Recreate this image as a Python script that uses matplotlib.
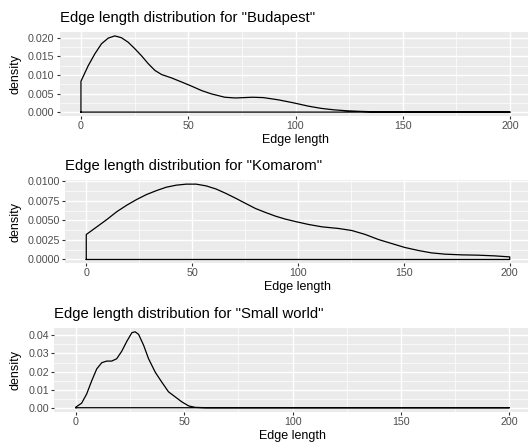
import matplotlib.pyplot as plt
from matplotlib.ticker import FixedLocator, FormatStrFormatter

plt.rcParams['font.family'] = ['Liberation Sans', 'DejaVu Sans']

budapest_x = [0, 3.4, 6.5, 9.6, 12.7, 15.8, 18.9, 22, 25.2, 28.3, 31.4, 34.5, 37.6,
              42.2, 46.9, 51.5, 56.2, 60.8, 67, 72, 76, 80, 85, 92, 99, 106, 112,
              118, 124, 130, 136, 145, 200]
budapest_y = [0.0083, 0.0125, 0.0157, 0.0184, 0.0199, 0.0205, 0.0200, 0.0188,
              0.0170, 0.0151, 0.0130, 0.0112, 0.0101, 0.0092, 0.0081, 0.0070,
              0.0058, 0.0049, 0.0040, 0.0038, 0.0039, 0.0040, 0.0039, 0.0033,
              0.0025, 0.0016, 0.0010, 0.0006, 0.00035, 0.0002, 0.0001, 0.0, 0.0]

komarom_x = [0, 5, 9.7, 14.4, 19.1, 23.8, 28.5, 33.2, 37.8, 42.5, 47.2, 51.9,
             56.6, 61.3, 66, 70.7, 75.3, 80, 84.7, 89.4, 94.1, 99.5, 105, 111.3,
             119.1, 125.4, 131.7, 138, 144.2, 150.5, 156.8, 163.1, 169.4, 177.2,
             185, 192.9, 200]
komarom_y = [0.00319, 0.00417, 0.0051, 0.0061, 0.00693, 0.00766, 0.0083, 0.0088,
             0.00923, 0.00949, 0.00962, 0.00962, 0.0094, 0.0090, 0.00843, 0.0078,
             0.00715, 0.0065, 0.0060, 0.00553, 0.00515, 0.0048, 0.00447, 0.00417,
             0.00396, 0.0037, 0.0032, 0.00255, 0.00204, 0.00153, 0.00115,
             0.00084, 0.00068, 0.00059, 0.00055, 0.00046, 0.00033]

smallworld_x = [0, 2.6, 4.9, 7.3, 9.6, 11.9, 14.2, 16.5, 18.8, 21.1, 23.5, 25.8,
                27.3, 28.9, 31.2, 33.5, 36.6, 39.7, 42.7, 45.8, 48.9, 52, 55,
                60, 200]
smallworld_y = [0.0004, 0.0025, 0.0075, 0.0150, 0.0215, 0.0249, 0.0258, 0.0258,
                0.0271, 0.0312, 0.0368, 0.0415, 0.0420, 0.0406, 0.0346, 0.0271,
                0.0196, 0.0140, 0.0088, 0.0060, 0.0032, 0.0010, 0.0002, 0.0, 0.0]

titles = ['Edge length distribution for "Budapest"',
          'Edge length distribution for "Komarom"',
          'Edge length distribution for "Small world"']

x_major = [0, 50, 100, 150, 200]
x_minor = [25, 75, 125, 175]

W, H = 528, 444
fig = plt.figure(figsize=(W / 100, H / 100), dpi=100)


def panel(box, xs, ys, title, ymajor, yminor, ylim, fmt):
    left, right, top, bottom = box
    ax = fig.add_axes([left / W, 1 - bottom / H, (right - left) / W, (bottom - top) / H])
    ax.set_facecolor('#EBEBEB')
    for s in ax.spines.values():
        s.set_visible(False)
    ax.set_xlim(-10, 210)
    ax.set_ylim(*ylim)
    ax.xaxis.set_major_locator(FixedLocator(x_major))
    ax.xaxis.set_minor_locator(FixedLocator(x_minor))
    ax.yaxis.set_major_locator(FixedLocator(ymajor))
    ax.yaxis.set_minor_locator(FixedLocator(yminor))
    ax.yaxis.set_major_formatter(FormatStrFormatter(fmt))
    ax.grid(which='major', color='white', linewidth=1.0)
    ax.grid(which='minor', color='white', linewidth=0.5)
    ax.set_axisbelow(True)
    ax.tick_params(which='major', length=2.3, width=0.8, color='#333333',
                   labelcolor='#4D4D4D', labelsize=7.7, pad=1.6)
    ax.tick_params(which='minor', length=0)

    # closed outline: up the left edge, along the curve, back on the baseline
    px = [xs[0]] + xs + [xs[-1], xs[0]]
    py = [0] + ys + [0, 0]
    ax.plot(px, py, color='black', linewidth=0.9, solid_joinstyle='round')

    ax.annotate(title, xy=(0, 1), xycoords='axes fraction', xytext=(0, 10),
                textcoords='offset points', ha='left', va='center', fontsize=10.7)
    ax.set_xlabel('Edge length', fontsize=9, labelpad=2.0)
    fig.text(15 / W, 1 - (top + bottom) / 2 / H, 'density', rotation=90,
             ha='center', va='center', fontsize=9)
    return ax


panel((59.5, 531.5, 32, 116), budapest_x, budapest_y, titles[0],
      [0, 0.005, 0.010, 0.015, 0.020], [0.0025, 0.0075, 0.0125, 0.0175],
      (-0.00105, 0.02155), '%.3f')
panel((65.1, 530.9, 180, 263), komarom_x, komarom_y, titles[1],
      [0, 0.0025, 0.005, 0.0075, 0.01], [0.00125, 0.00375, 0.00625, 0.00875],
      (-0.00045, 0.01015), '%.4f')
panel((54.3, 531, 328, 411.7), smallworld_x, smallworld_y, titles[2],
      [0, 0.01, 0.02, 0.03, 0.04], [0.005, 0.015, 0.025, 0.035],
      (-0.0022, 0.0441), '%.2f')

fig.savefig('out.png', dpi=100)
